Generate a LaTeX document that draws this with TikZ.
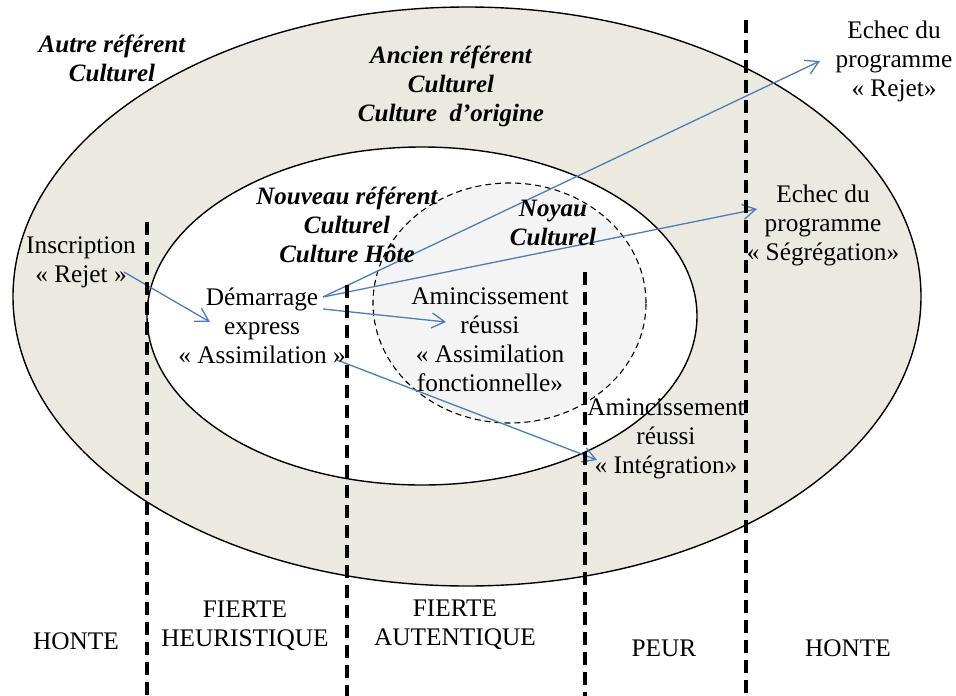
\documentclass[tikz,border=0pt]{standalone}
\usepackage{fontspec}
\setmainfont{Liberation Serif}
\usetikzlibrary{arrows.meta}
\definecolor{ringfill}{RGB}{236,234,224}
\definecolor{corefill}{RGB}{244,244,244}
\definecolor{flowblue}{RGB}{74,126,187}
\tikzset{
  txt/.style={align=center, inner sep=0pt, font=\fontsize{25.3}{29}\selectfont},
  head/.style={txt, font=\fontsize{25}{29}\selectfont\bfseries\itshape},
  border/.style={draw=black, line width=1.4pt},
  zoneline/.style={draw=black, line width=3.4pt, dash pattern=on 13pt off 7pt},
  flow/.style={draw=flowblue, line width=1.3pt, -{Straight Barb[length=13pt,width=15pt,line width=1.3pt]}}
}
\begin{document}
\begin{tikzpicture}[x=1pt,y=-1pt]
\useasboundingbox (0,0) rectangle (956,696);

% nested cultural frames
\path[border, fill=ringfill] (467,296.5) ellipse [x radius=454pt, y radius=289.5pt];
\path[border, fill=white] (422,316) ellipse [x radius=275pt, y radius=169pt];
\path[draw=black, line width=1.1pt, dash pattern=on 6pt off 4pt, fill=corefill]
  (509.5,303) ellipse [x radius=136.5pt, y radius=120pt];

% zone boundaries
\coordinate (z1t) at (147,222);  \coordinate (z1b) at (147,696);
\coordinate (z2t) at (347,285);  \coordinate (z2b) at (347,696);
\coordinate (z3t) at (585,272);  \coordinate (z3b) at (585,696);
\coordinate (z4t) at (746,20);   \coordinate (z4b) at (746,696);

% flow end points
\coordinate (insOut) at (124,272);
\coordinate (demIn)  at (210,322);
\coordinate (demA)   at (323,297);
\coordinate (demB)   at (323,309);
\coordinate (demC)   at (337,360);
\coordinate (rejIn)  at (820,61);
\coordinate (segIn)  at (757,209);
\coordinate (fonIn)  at (446,322);
\coordinate (intIn)  at (597,460);

\draw[flow] (insOut) -- (demIn);
\draw[flow] (demA) -- (rejIn);
\draw[flow] (demA) -- (segIn);
\draw[flow] (demB) -- (fonIn);
\draw[flow] (demC) -- (intIn);

\draw[zoneline] (z1t) -- (z1b);
\draw[zoneline] (z2t) -- (z2b);
\draw[zoneline] (z3t) -- (z3b);
\draw[zoneline] (z4t) -- (z4b);

% frame titles
\node[head] (autre)   at (112,58.5) {Autre référent\\Culturel};
\node[head] (ancien)  at (451,86)   {Ancien référent\\Culturel\\Culture\ \ d’origine};
\node[head] (nouveau) at (347,225)  {Nouveau référent\\Culturel\\Culture Hôte};
\node[head] (noyau)   at (553,223)  {Noyau\\Culturel};

% stages
\node[txt] (inscr)  at (81,262)  {Inscription\\« Rejet »};
\node[txt] (demar)  at (262,326) {Démarrage\\express\\« Assimilation »};
\node[txt] (amin1)  at (490,340) {Amincissement\\réussi\\« Assimilation\\fonctionnelle»};
\node[txt] (amin2)  at (666,439) {Amincissement\\réussi\\« Intégration»};
\node[txt] (echec1) at (894,61)  {Echec du\\programme\\« Rejet»};
\node[txt] (echec2) at (823,225) {Echec du\\programme\\« Ségrégation»};

% emotional zones
\node[txt] (honteA) at (76,641)  {HONTE};
\node[txt] (heur)   at (245,626) {FIERTE\\HEURISTIQUE};
\node[txt] (auth)   at (455,625) {FIERTE\\AUTENTIQUE};
\node[txt] (peur)   at (664,648) {PEUR};
\node[txt] (honteB) at (848,648) {HONTE};
\end{tikzpicture}
\end{document}
